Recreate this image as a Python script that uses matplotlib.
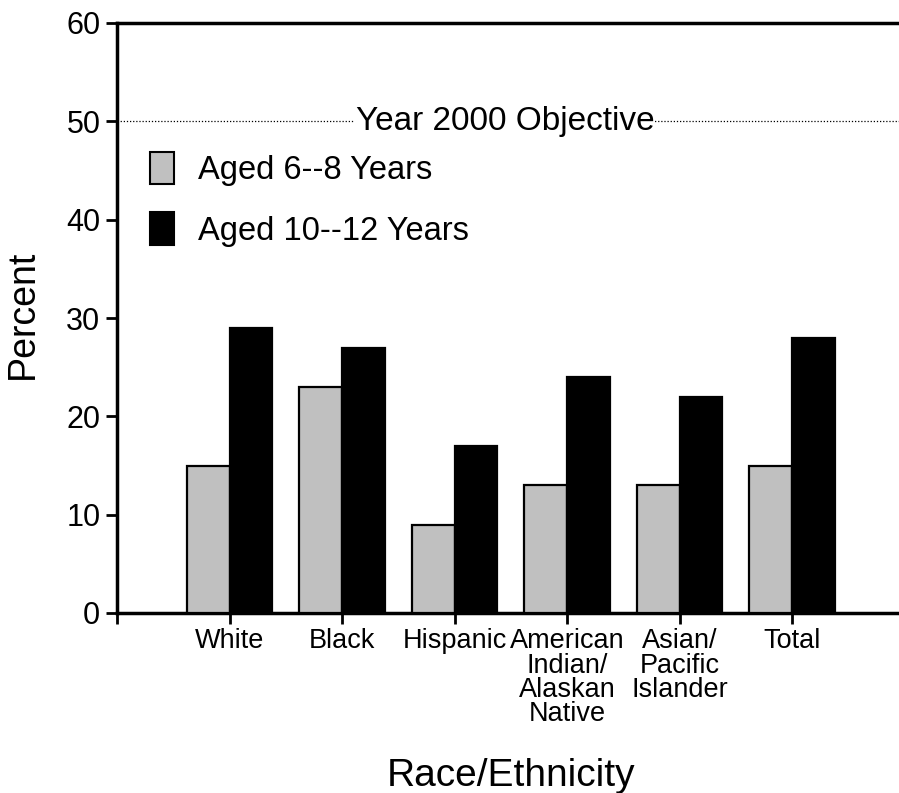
import matplotlib
matplotlib.use("Agg")
import matplotlib.pyplot as plt
from matplotlib.patches import Patch
import numpy as np

categories = ["White", "Black", "Hispanic", "American\nIndian/\nAlaskan\nNative",
              "Asian/\nPacific\nIslander", "Total"]
aged_6_8 = [15, 23, 9, 13, 13, 15]
aged_10_12 = [29, 27, 17, 24, 22, 28]
series_labels = ["Aged 6--8 Years", "Aged 10--12 Years"]
objective = 50
objective_label = "Year 2000 Objective"
yticks = [0, 10, 20, 30, 40, 50, 60]

plt.rcParams['font.family'] = ['Liberation Sans', 'DejaVu Sans']

W, H = 899, 793
fig = plt.figure(figsize=(W / 100, H / 100), dpi=100)
left_px, right_px, top_px, bot_px = 117, 904.6, 23, 613
ax = fig.add_axes([left_px / W, (H - bot_px) / H, (right_px - left_px) / W, (bot_px - top_px) / H])

x = np.arange(len(categories))
bw = 0.38
ax.bar(x - bw / 2, aged_6_8, bw, color="#c0c0c0", edgecolor="black", linewidth=1.6,
       label=series_labels[0], zorder=3)
ax.bar(x + bw / 2, aged_10_12, bw, color="black", edgecolor="black", linewidth=1.6,
       label=series_labels[1], zorder=3)

ax.axhline(objective, color="black", linestyle=(0, (1, 1.5)), linewidth=0.9, zorder=1)
ax.text(2.45, objective, objective_label, ha="center", va="center", fontsize=24,
        bbox=dict(facecolor="white", edgecolor="none", pad=0.5), zorder=2)

ax.set_xlim(-1, 6)
ax.set_ylim(0, 60)
ax.set_yticks(yticks)
ax.set_xticks(np.arange(-1, 6))
ax.set_xticklabels([""] + categories, fontsize=19.5, linespacing=0.92)
ax.tick_params(axis="y", labelsize=22, length=8, width=2, direction="out", pad=4)
ax.tick_params(axis="x", length=8, width=2, direction="out", pad=3)
for s in ["left", "bottom", "top"]:
    ax.spines[s].set_linewidth(2.5)
ax.spines["right"].set_visible(False)

ax.set_ylabel("Percent", fontsize=27, labelpad=22)
ax.yaxis.set_label_coords(-0.097, 0.506)
ax.set_xlabel("Race/Ethnicity", fontsize=28, labelpad=22)

handles = [Patch(facecolor="#c0c0c0", edgecolor="black", linewidth=1.5),
           Patch(facecolor="black", edgecolor="black", linewidth=1.5)]
ax.legend(handles, series_labels, loc="upper left", bbox_to_anchor=(150 / W, 1 - 152 / H),
          bbox_transform=fig.transFigure, frameon=False, fontsize=23.5, borderpad=0,
          borderaxespad=0, handlelength=0.72, handleheight=1.15, handletextpad=0.75,
          labelspacing=0.8)

fig.savefig("out.png", dpi=100)
